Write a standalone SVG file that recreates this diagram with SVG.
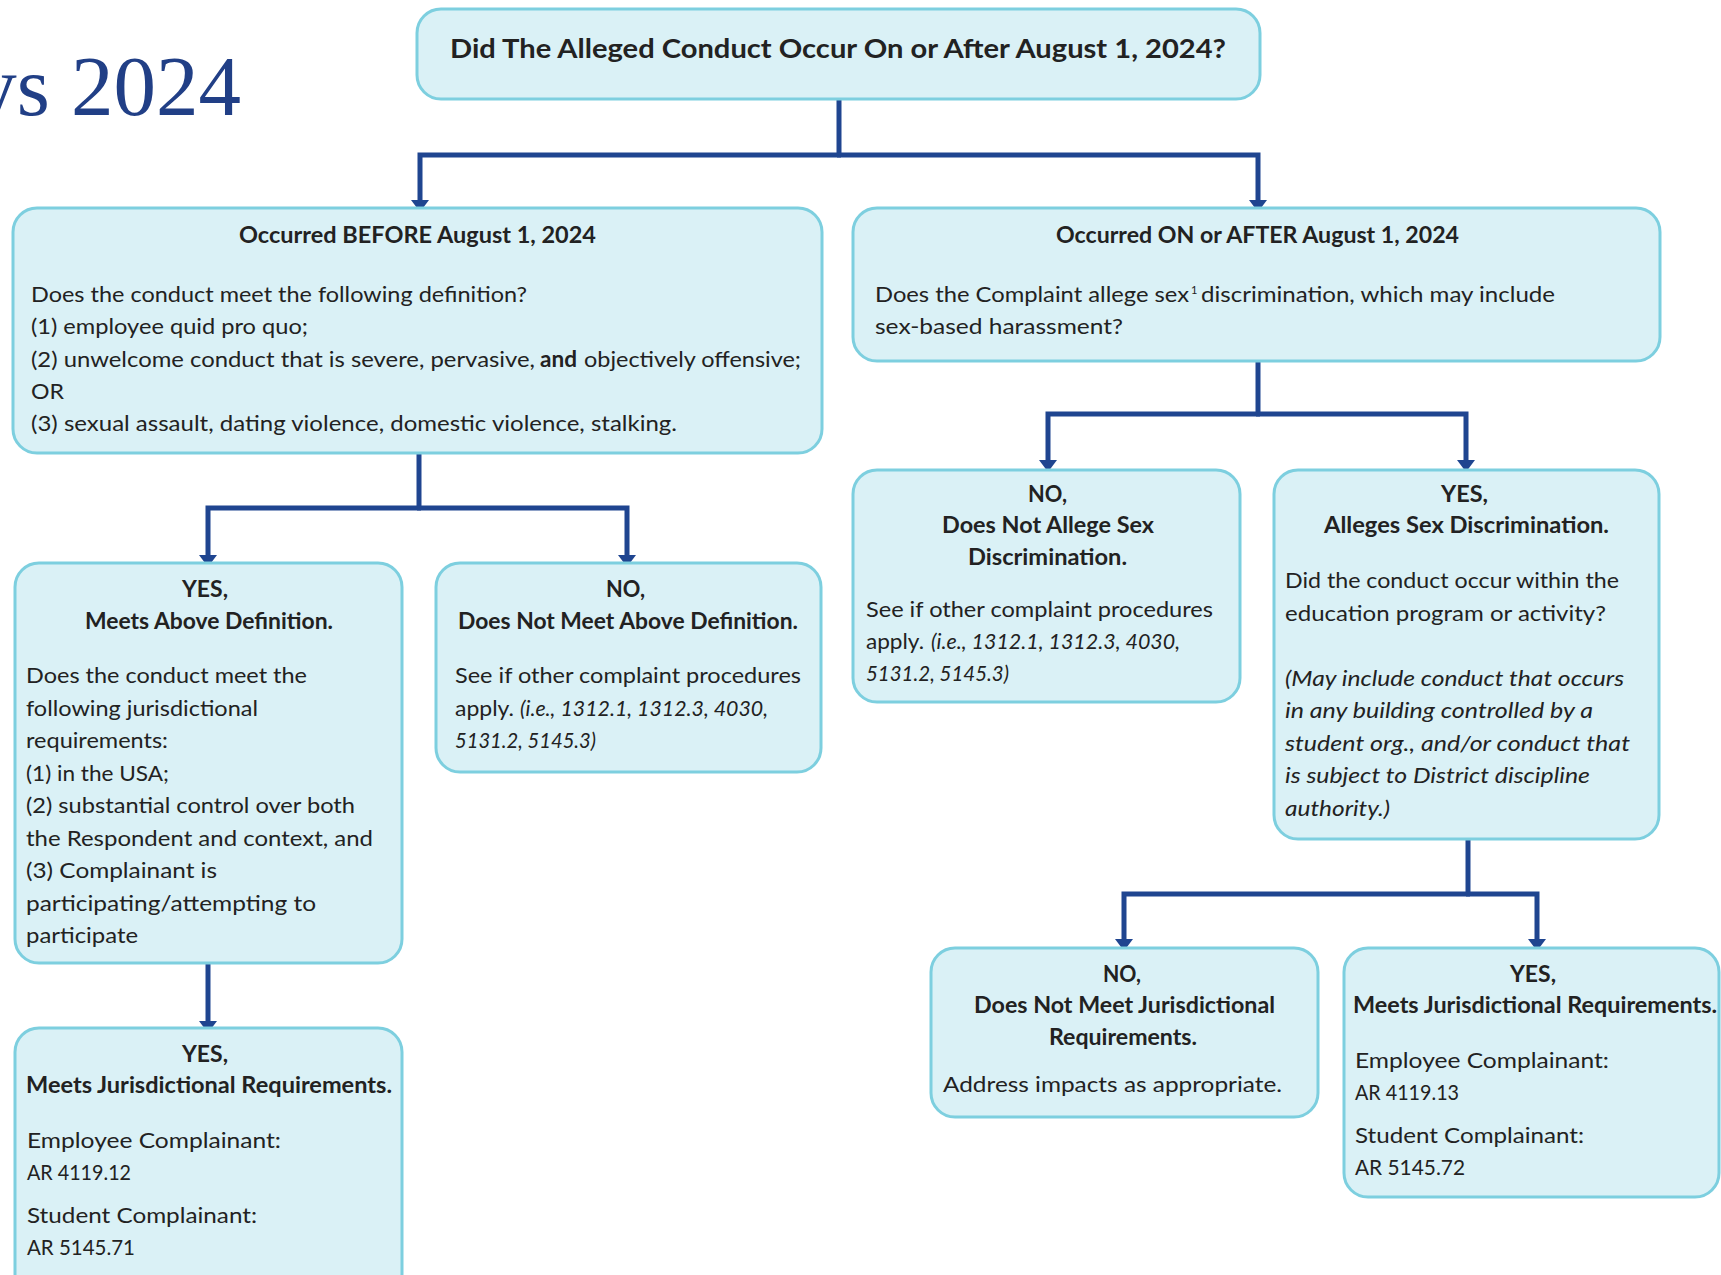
<svg xmlns="http://www.w3.org/2000/svg" width="1721" height="1275" viewBox="0 0 1721 1275">
<style>
.box{fill:#daf1f6;stroke:#7dcfdf;stroke-width:3}
.con{fill:none;stroke:#1f4590;stroke-width:5}
text{font-family:Lato,"Liberation Sans",sans-serif;fill:#222;font-size:22px}
.h{font-weight:700}
.i{font-style:italic}
.sup{font-size:11px}
.top{font-weight:700;font-size:27px}
.title{font-family:"Liberation Serif",serif;font-size:85px;fill:#213f86}
</style>
<defs>
<marker id="arr" viewBox="0 0 12 18" refX="4" refY="9" markerWidth="12" markerHeight="18" markerUnits="userSpaceOnUse" orient="auto">
<path d="M0,0 L12,9 L0,18 z" fill="#1f4590"/>
</marker>
</defs>
<rect width="1721" height="1275" fill="#fff"/>
<text class="title" x="241" y="115" text-anchor="end">ys 2024</text>

<g id="connectors">
<path class="con" d="M839,99 V155"/>
<path class="con" d="M841,155 H420 V204" marker-end="url(#arr)"/>
<path class="con" d="M837,155 H1258 V204" marker-end="url(#arr)"/>
<path class="con" d="M419,453 V508"/>
<path class="con" d="M421,508 H208 V559" marker-end="url(#arr)"/>
<path class="con" d="M417,508 H627 V559" marker-end="url(#arr)"/>
<path class="con" d="M1258,361 V414"/>
<path class="con" d="M1260,414 H1048 V464" marker-end="url(#arr)"/>
<path class="con" d="M1256,414 H1466 V464" marker-end="url(#arr)"/>
<path class="con" d="M208,963 V1025" marker-end="url(#arr)"/>
<path class="con" d="M1468,839 V894"/>
<path class="con" d="M1470,894 H1124 V943" marker-end="url(#arr)"/>
<path class="con" d="M1466,894 H1537 V943" marker-end="url(#arr)"/>
</g>

<g id="n-top">
<rect class="box" x="417" y="9" width="843" height="90" rx="24"/>
<text class="top" x="450" y="58" textLength="776" lengthAdjust="spacingAndGlyphs">Did The Alleged Conduct Occur On or After August 1, 2024?</text>
</g>

<g id="n-before">
<rect class="box" x="13" y="208" width="809" height="245" rx="24"/>
<text class="h" x="239" y="243" textLength="357" lengthAdjust="spacingAndGlyphs">Occurred BEFORE August 1, 2024</text>
<text x="31" y="302" textLength="496" lengthAdjust="spacingAndGlyphs">Does the conduct meet the following definition?</text>
<text x="31" y="334" textLength="277" lengthAdjust="spacingAndGlyphs">(1) employee quid pro quo;</text>
<text x="31" y="367" textLength="504" lengthAdjust="spacingAndGlyphs">(2) unwelcome conduct that is severe, pervasive,</text>
<text class="h" x="540" y="367" textLength="37" lengthAdjust="spacingAndGlyphs">and</text>
<text x="584" y="367" textLength="217" lengthAdjust="spacingAndGlyphs">objectively offensive;</text>
<text x="31" y="399" textLength="33" lengthAdjust="spacingAndGlyphs">OR</text>
<text x="31" y="431" textLength="646" lengthAdjust="spacingAndGlyphs">(3) sexual assault, dating violence, domestic violence, stalking.</text>
</g>

<g id="n-after">
<rect class="box" x="853" y="208" width="807" height="153" rx="24"/>
<text class="h" x="1056" y="243" textLength="403" lengthAdjust="spacingAndGlyphs">Occurred ON or AFTER August 1, 2024</text>
<text x="875" y="302" textLength="314" lengthAdjust="spacingAndGlyphs">Does the Complaint allege sex</text>
<text class="sup" x="1191" y="294">1</text>
<text x="1201" y="302" textLength="354" lengthAdjust="spacingAndGlyphs">discrimination, which may include</text>
<text x="875" y="334" textLength="248" lengthAdjust="spacingAndGlyphs">sex-based harassment?</text>
</g>

<g id="n-yes-def">
<rect class="box" x="15" y="563" width="387" height="400" rx="24"/>
<text class="h" x="182" y="597" textLength="46" lengthAdjust="spacingAndGlyphs">YES,</text>
<text class="h" x="85" y="629" textLength="248" lengthAdjust="spacingAndGlyphs">Meets Above Definition.</text>
<text x="26" y="683" textLength="281" lengthAdjust="spacingAndGlyphs">Does the conduct meet the</text>
<text x="26" y="716" textLength="232" lengthAdjust="spacingAndGlyphs">following jurisdictional</text>
<text x="26" y="748" textLength="142" lengthAdjust="spacingAndGlyphs">requirements:</text>
<text x="26" y="781" textLength="143" lengthAdjust="spacingAndGlyphs">(1) in the USA;</text>
<text x="26" y="813" textLength="329" lengthAdjust="spacingAndGlyphs">(2) substantial control over both</text>
<text x="26" y="846" textLength="347" lengthAdjust="spacingAndGlyphs">the Respondent and context, and</text>
<text x="26" y="878" textLength="191" lengthAdjust="spacingAndGlyphs">(3) Complainant is</text>
<text x="26" y="911" textLength="290" lengthAdjust="spacingAndGlyphs">participating/attempting to</text>
<text x="26" y="943" textLength="112" lengthAdjust="spacingAndGlyphs">participate</text>
</g>

<g id="n-no-def">
<rect class="box" x="436" y="563" width="385" height="209" rx="24"/>
<text class="h" x="606" y="597" textLength="39" lengthAdjust="spacingAndGlyphs">NO,</text>
<text class="h" x="458" y="629" textLength="340" lengthAdjust="spacingAndGlyphs">Does Not Meet Above Definition.</text>
<text x="455" y="683" textLength="346" lengthAdjust="spacingAndGlyphs">See if other complaint procedures</text>
<text x="455" y="716" textLength="59" lengthAdjust="spacingAndGlyphs">apply.</text>
<text class="i" x="520" y="716" textLength="248" lengthAdjust="spacingAndGlyphs">(i.e., 1312.1, 1312.3, 4030,</text>
<text class="i" x="455" y="748" textLength="141" lengthAdjust="spacingAndGlyphs">5131.2, 5145.3)</text>
</g>

<g id="n-yes-jur-before">
<rect class="box" x="15" y="1028" width="387" height="270" rx="24"/>
<text class="h" x="182" y="1062" textLength="46" lengthAdjust="spacingAndGlyphs">YES,</text>
<text class="h" x="26" y="1093" textLength="366" lengthAdjust="spacingAndGlyphs">Meets Jurisdictional Requirements.</text>
<text x="27" y="1148" textLength="254" lengthAdjust="spacingAndGlyphs">Employee Complainant:</text>
<text x="27" y="1180" textLength="104" lengthAdjust="spacingAndGlyphs">AR 4119.12</text>
<text x="27" y="1223" textLength="230" lengthAdjust="spacingAndGlyphs">Student Complainant:</text>
<text x="27" y="1255" textLength="108" lengthAdjust="spacingAndGlyphs">AR 5145.71</text>
</g>

<g id="n-no-sex">
<rect class="box" x="853" y="470" width="387" height="232" rx="24"/>
<text class="h" x="1028" y="502" textLength="39" lengthAdjust="spacingAndGlyphs">NO,</text>
<text class="h" x="942" y="533" textLength="212" lengthAdjust="spacingAndGlyphs">Does Not Allege Sex</text>
<text class="h" x="968" y="565" textLength="159" lengthAdjust="spacingAndGlyphs">Discrimination.</text>
<text x="866" y="617" textLength="347" lengthAdjust="spacingAndGlyphs">See if other complaint procedures</text>
<text x="866" y="649" textLength="58" lengthAdjust="spacingAndGlyphs">apply.</text>
<text class="i" x="931" y="649" textLength="249" lengthAdjust="spacingAndGlyphs">(i.e., 1312.1, 1312.3, 4030,</text>
<text class="i" x="866" y="681" textLength="143" lengthAdjust="spacingAndGlyphs">5131.2, 5145.3)</text>
</g>

<g id="n-yes-sex">
<rect class="box" x="1274" y="470" width="385" height="369" rx="24"/>
<text class="h" x="1441" y="502" textLength="47" lengthAdjust="spacingAndGlyphs">YES,</text>
<text class="h" x="1324" y="533" textLength="285" lengthAdjust="spacingAndGlyphs">Alleges Sex Discrimination.</text>
<text x="1285" y="588" textLength="334" lengthAdjust="spacingAndGlyphs">Did the conduct occur within the</text>
<text x="1285" y="621" textLength="321" lengthAdjust="spacingAndGlyphs">education program or activity?</text>
<text class="i" x="1285" y="686" textLength="339" lengthAdjust="spacingAndGlyphs">(May include conduct that occurs</text>
<text class="i" x="1285" y="718" textLength="308" lengthAdjust="spacingAndGlyphs">in any building controlled by a</text>
<text class="i" x="1285" y="751" textLength="345" lengthAdjust="spacingAndGlyphs">student org., and/or conduct that</text>
<text class="i" x="1285" y="783" textLength="305" lengthAdjust="spacingAndGlyphs">is subject to District discipline</text>
<text class="i" x="1285" y="816" textLength="105" lengthAdjust="spacingAndGlyphs">authority.)</text>
</g>

<g id="n-no-jur">
<rect class="box" x="931" y="948" width="387" height="169" rx="24"/>
<text class="h" x="1103" y="982" textLength="38" lengthAdjust="spacingAndGlyphs">NO,</text>
<text class="h" x="974" y="1013" textLength="301" lengthAdjust="spacingAndGlyphs">Does Not Meet Jurisdictional</text>
<text class="h" x="1049" y="1045" textLength="148" lengthAdjust="spacingAndGlyphs">Requirements.</text>
<text x="943" y="1092" textLength="339" lengthAdjust="spacingAndGlyphs">Address impacts as appropriate.</text>
</g>

<g id="n-yes-jur-after">
<rect class="box" x="1344" y="948" width="375" height="249" rx="24"/>
<text class="h" x="1510" y="982" textLength="46" lengthAdjust="spacingAndGlyphs">YES,</text>
<text class="h" x="1353" y="1013" textLength="364" lengthAdjust="spacingAndGlyphs">Meets Jurisdictional Requirements.</text>
<text x="1355" y="1068" textLength="254" lengthAdjust="spacingAndGlyphs">Employee Complainant:</text>
<text x="1355" y="1100" textLength="104" lengthAdjust="spacingAndGlyphs">AR 4119.13</text>
<text x="1355" y="1143" textLength="229" lengthAdjust="spacingAndGlyphs">Student Complainant:</text>
<text x="1355" y="1175" textLength="110" lengthAdjust="spacingAndGlyphs">AR 5145.72</text>
</g>
</svg>
